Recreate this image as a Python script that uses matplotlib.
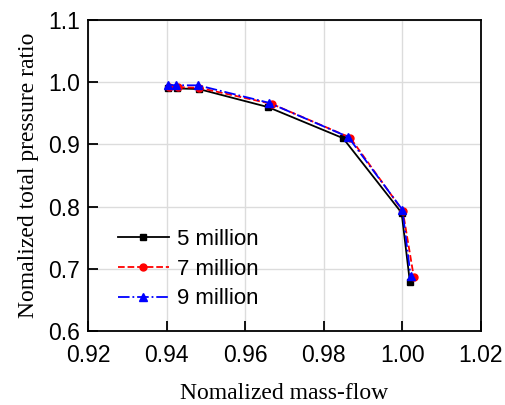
import numpy as np
import matplotlib.pyplot as plt

x_5m = [0.9404, 0.9426, 0.9482, 0.9658, 0.9849, 0.9998, 1.0019]
y_5m = [0.991, 0.990, 0.989, 0.960, 0.910, 0.790, 0.679]
x_7m = [0.9405, 0.9428, 0.9483, 0.9668, 0.9867, 1.0001, 1.0029]
y_7m = [0.993, 0.992, 0.991, 0.965, 0.911, 0.793, 0.687]
x_9m = [0.9403, 0.9423, 0.9480, 0.9660, 0.9862, 1.0000, 1.0021]
y_9m = [0.996, 0.995, 0.995, 0.967, 0.912, 0.795, 0.688]

xticks = [0.92, 0.94, 0.96, 0.98, 1.00, 1.02]
yticks = [0.6, 0.7, 0.8, 0.9, 1.0, 1.1]

plt.rcParams['font.family'] = 'Liberation Sans'

fig = plt.figure(figsize=(5.05, 4.05), dpi=100)
ax = fig.add_axes([88/505, 1 - 331/405, 393/505, 311/405])

ax.plot(x_5m, y_5m, color='black', linestyle='-', marker='s', markersize=5, linewidth=1.3, label='5 million')
ax.plot(x_7m, y_7m, color='red', linestyle='--', marker='o', markersize=5, linewidth=1.3, label='7 million')
ax.plot(x_9m, y_9m, color='blue', linestyle='-.', marker='^', markersize=6, linewidth=1.3, label='9 million')

ax.set_xlim(0.92, 1.02)
ax.set_ylim(0.6, 1.1)
ax.set_xticks(xticks)
ax.set_yticks(yticks)
ax.set_xticklabels(['%.2f' % v for v in xticks])
ax.set_yticklabels(['%.1f' % v for v in yticks])
ax.tick_params(direction='in', length=7, width=1.3, labelsize=16.5, top=False, right=False)
ax.tick_params(axis='x', pad=9)
ax.tick_params(axis='y', pad=6)
ax.grid(True, color='#dcdcdc', linewidth=1)
ax.set_axisbelow(True)
for s in ax.spines.values():
    s.set_linewidth(1.3)

ax.set_xlabel('Nomalized mass-flow', family='Liberation Serif', fontsize=17, labelpad=12)
ax.set_ylabel('Nomalized total pressure ratio', family='Liberation Serif', fontsize=17, labelpad=6)

ax.legend(loc='lower left', bbox_to_anchor=(0.025, 0.005), frameon=False, fontsize=16,
          handlelength=2.3, handletextpad=0.35, labelspacing=0.4)

fig.savefig('out.png', dpi=100)
